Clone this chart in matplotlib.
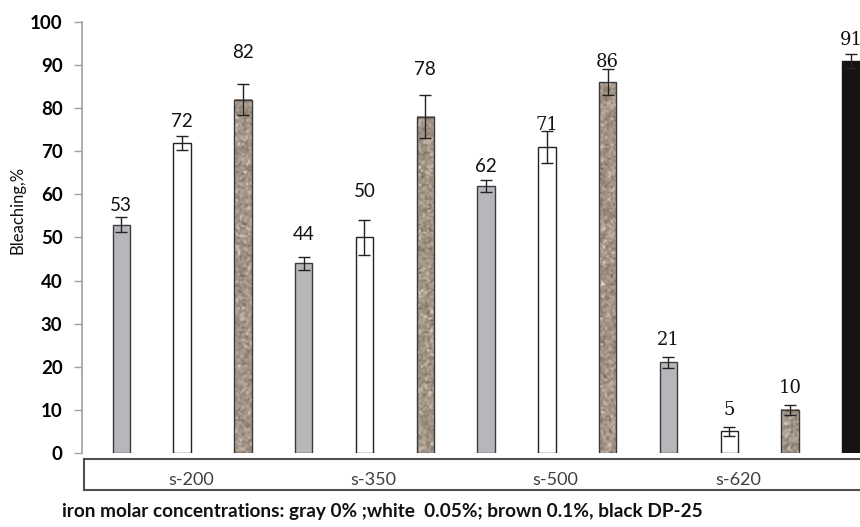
import numpy as np
import matplotlib.pyplot as plt
from matplotlib.patches import Rectangle

# bars in order: s-200 (gray, white, brown), s-350 ..., s-500 ..., s-620 ..., DP-25
values = [53, 72, 82, 44, 50, 78, 62, 71, 86, 21, 5, 10, 91]
errors = [1.7, 1.6, 3.6, 1.5, 4.0, 5.0, 1.4, 3.6, 3.0, 1.2, 1.0, 1.2, 1.6]
kinds = ["gray", "white", "brown"] * 4 + ["black"]
labels = ["53", "72", "82", "44", "50", "78", "62", "71", "86", "21", "5", "10", "91"]
groups = ["s-200", "s-350", "s-500", "s-620"]

# where Excel put the value labels (data units)
label_y = [57.5, 76.8, 93.0, 50.6, 60.6, 88.9, 66.4, 76.1, 90.7, 26.2, 9.9, 15.1, 95.8]

face = {"gray": "#b5b7ba", "white": "white", "black": "#141414"}
edge = {"gray": "#3c3c3c", "white": "#222222", "brown": "#3a3a3a", "black": "#141414"}

W, H = 860, 527
fig = plt.figure(figsize=(W / 100, H / 100), dpi=100)
ax = fig.add_axes([82 / W, (H - 453) / H, 1 - 82 / W, (453 - 22) / H])

x = np.arange(len(values))
bw = 0.285
rng = np.random.default_rng(3)

for i, (v, k) in enumerate(zip(values, kinds)):
    if k == "brown":
        # speckled brown texture (cells of ~2 px), with a few light flecks
        n = int(v * 4.31 / 2) + 1
        tex = rng.normal(0, 1, (n, 9)) * 0.07
        tex += (rng.random((n, 9)) > 0.93) * 0.18
        base = np.array([160, 147, 133]) / 255
        img = np.clip(base[None, None, :] + tex[..., None], 0, 1)
        ax.imshow(img, extent=[i - bw / 2, i + bw / 2, 0, v], aspect="auto",
                  interpolation="bilinear", zorder=2)
        ax.add_patch(Rectangle((i - bw / 2, 0), bw, v, fill=False,
                               edgecolor=edge[k], linewidth=1.0, zorder=3))
    else:
        ax.bar(i, v, width=bw, color=face[k], edgecolor=edge[k], linewidth=1.0, zorder=2)

ax.errorbar(x, values, yerr=errors, fmt="none", ecolor="#222222",
            elinewidth=1.0, capsize=4, capthick=1.0, zorder=4)

serif_idx = {7, 8, 9, 10, 11, 12}
for i, (lab, ly) in enumerate(zip(labels, label_y)):
    fam = "DejaVu Serif" if i in serif_idx else "Lato"
    fs = 13 if i in serif_idx else 13.5
    ax.text(i, ly, lab, ha="center", va="center", fontsize=fs,
            family=fam, color="#111111", zorder=5)

ax.set_xlim(-0.646, 12.15)
ax.set_ylim(0, 100)
ax.set_yticks(range(0, 101, 10))
ax.set_yticklabels([str(t) for t in range(0, 101, 10)], fontsize=13.5,
                   fontweight="bold", family="Lato")
ax.tick_params(axis="y", direction="out", length=6, width=1, color="#a0a0a0", pad=8)
ax.set_xticks([])
for s in ["top", "right", "bottom"]:
    ax.spines[s].set_visible(False)
ax.spines["left"].set_color("#a0a0a0")
ax.spines["left"].set_linewidth(1.2)

# category box below the plot
bx = fig.add_axes([84 / W, (H - 490) / H, 1.0, 31 / H])
bx.set_xlim(ax.get_xlim()[0] - 2 / 60.8, ax.get_xlim()[0] - 2 / 60.8 + W / 60.8)
bx.set_ylim(0, 1)
bx.set_xticks([])
bx.set_yticks([])
for s in bx.spines.values():
    s.set_color("#505050")
    s.set_linewidth(1.5)
for j, g in enumerate(groups):
    bx.text(3 * j + 1.08, 0.33, g, ha="center", va="center", fontsize=13,
            family="Lato", color="#404040")

fig.text(18 / W, 1 - 210 / H, "Bleaching,%", rotation=90, ha="center", va="center",
         fontsize=12, family="Lato", color="#111111")
fig.text(62 / W, 1 - 511 / H,
         "iron molar concentrations: gray 0% ;white  0.05%; brown 0.1%, black DP-25",
         ha="left", va="center", fontsize=13.7, fontweight="bold", family="Lato",
         color="#111111")

fig.savefig("out.png", dpi=100)
